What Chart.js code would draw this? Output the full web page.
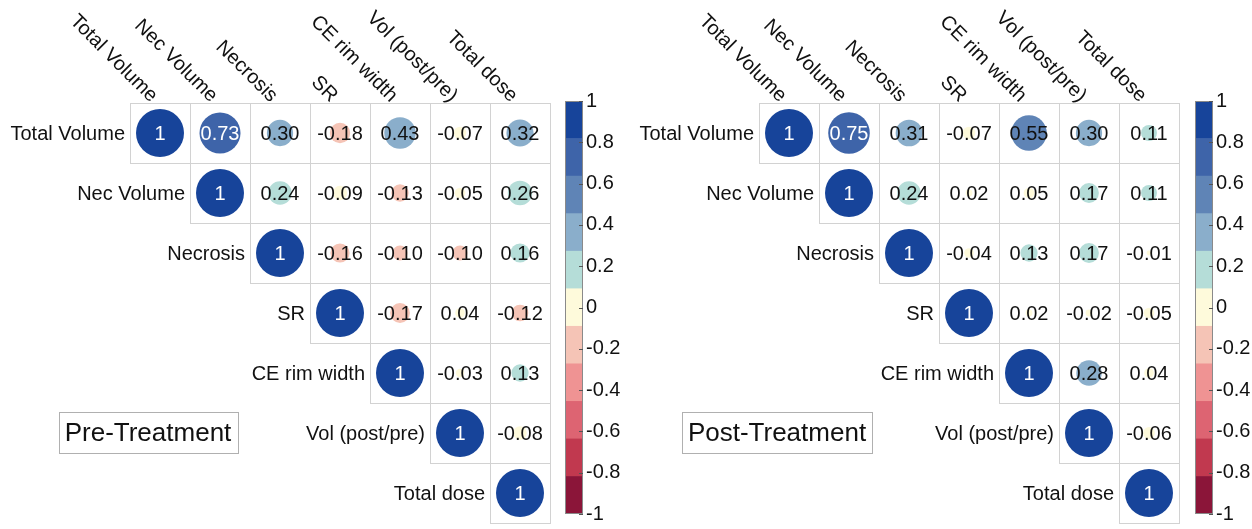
<!DOCTYPE html>
<html>
<head>
<meta charset="utf-8">
<title>Correlation matrices</title>
<script src="https://cdn.jsdelivr.net/npm/chart.js@4.4.0/dist/chart.umd.min.js"></script>
<style>
    body { margin: 0; background: #fff; width: 1252px; height: 529px; position: relative; overflow: hidden; }
    .panel { position: absolute; top: 0; height: 529px; }
</style>
</head>
<body>
<div class="panel" style="left:0px;width:560px"><canvas id="preMatrix"></canvas></div>
<div class="panel" style="left:540px;width:80px"><canvas id="preBar"></canvas></div>
<div class="panel" style="left:629px;width:552px"><canvas id="postMatrix"></canvas></div>
<div class="panel" style="left:1170px;width:82px"><canvas id="postBar"></canvas></div>

<script>
// Variable names (rows and columns of both matrices)
const variables = ['Total Volume', 'Nec Volume', 'Necrosis', 'SR', 'CE rim width', 'Vol (post/pre)', 'Total dose'];

// Upper triangle of the pre-treatment correlations, each row starts at the diagonal
const preCorr = [
    [1, 0.73, 0.30, -0.18, 0.43, -0.07, 0.32],
    [1, 0.24, -0.09, -0.13, -0.05, 0.26],
    [1, -0.16, -0.10, -0.10, 0.16],
    [1, -0.17, 0.04, -0.12],
    [1, -0.03, 0.13],
    [1, -0.08],
    [1]
];

// Upper triangle of the post-treatment correlations
const postCorr = [
    [1, 0.75, 0.31, -0.07, 0.55, 0.30, 0.11],
    [1, 0.24, 0.02, 0.05, 0.17, 0.11],
    [1, -0.04, 0.13, 0.17, -0.01],
    [1, 0.02, -0.02, -0.05],
    [1, 0.28, 0.04],
    [1, -0.06],
    [1]
];

// Colour bar bins, from -1 up to 1
const barColors = ['#8b1539', '#c1394f', '#dd6472', '#ef9393', '#f5c4b6', '#fefadb',
    '#b5ddd8', '#8aaecb', '#5f84b6', '#3e64a9', '#17449a'];

// Colour bar tick labels
const barTicks = [1, 0.8, 0.6, 0.4, 0.2, 0, -0.2, -0.4, -0.6, -0.8, -1];

const FONT = "'Liberation Sans', Arial, Helvetica, sans-serif";
Chart.defaults.font.family = FONT;

/* Picks the colour bin for a correlation value
*/
const binIndex = (v) => {
    const step = 2 / barColors.length;
    return Math.max(0, Math.min(barColors.length - 1, Math.floor((v + 1) / step)));
}

/* Half a cell in pixels, read from the x scale
*/
const halfCell = (chart) => {
    const x = chart.scales.x;
    if (!x) return 0;
    return Math.abs(x.getPixelForValue(1) - x.getPixelForValue(0)) / 2;
}

/* Grid, numbers, labels and the title box around the circles
*/
const matrixDecor = {
    id: 'matrixDecor',
    beforeDatasetsDraw(chart) {
        const { ctx, scales: { x, y } } = chart;
        const h = halfCell(chart);
        const n = variables.length;
        ctx.save();
        ctx.strokeStyle = '#d2d2d2';
        ctx.lineWidth = 1;
        for (let i = 0; i < n; i++) {
            for (let j = i; j < n; j++) {
                const cx = x.getPixelForValue(j);
                const cy = y.getPixelForValue(i);
                ctx.strokeRect(Math.round(cx - h) + 0.5, Math.round(cy - h) + 0.5, Math.round(2 * h), Math.round(2 * h));
            }
        }
        ctx.restore();
    },
    afterDatasetsDraw(chart, args, opts) {
        const { ctx, chartArea, scales: { x, y } } = chart;
        const h = halfCell(chart);
        ctx.save();

        // Numbers inside the cells
        ctx.font = '20px ' + FONT;
        ctx.textAlign = 'center';
        ctx.textBaseline = 'middle';
        chart.data.datasets[0].data.forEach(p => {
            const label = p.x === p.y ? '1' : p.v.toFixed(2);
            ctx.fillStyle = binIndex(p.v) >= barColors.length - 2 ? '#ffffff' : '#111111';
            ctx.fillText(label, x.getPixelForValue(p.x), y.getPixelForValue(p.y) + 1);
        });

        // Row labels, left of the diagonal cell
        ctx.fillStyle = '#111111';
        ctx.textAlign = 'right';
        variables.forEach((name, i) => {
            ctx.fillText(name, x.getPixelForValue(i) - h - 5, y.getPixelForValue(i) + 1);
        });

        // Column labels, tilted over the top row
        variables.forEach((name, j) => {
            ctx.save();
            ctx.translate(x.getPixelForValue(j) - 6, chartArea.top - 4);
            ctx.rotate(Math.PI / 4);
            ctx.textAlign = 'right';
            ctx.fillText(name, 0, 0);
            ctx.restore();
        });

        // Title box
        ctx.font = '26px ' + FONT;
        ctx.textAlign = 'center';
        const w = ctx.measureText(opts.title).width + 12;
        const bx = chartArea.left + 18;
        const by = 433;
        ctx.strokeStyle = '#b0b0b0';
        ctx.lineWidth = 1;
        ctx.strokeRect(Math.round(bx - w / 2) + 0.5, by - 20.5, Math.round(w), 41);
        ctx.fillText(opts.title, bx, by + 1);
        ctx.restore();
    }
};

/* Builds one correlation matrix chart
*/
const buildMatrix = (canvasId, corr, title, padRight) => {

    // Points of the upper triangle
    const points = [];
    corr.forEach((row, i) => {
        row.forEach((v, k) => points.push({ x: i + k, y: i, v: v }));
    });

    const radius = (c) => {
        const v = c.raw ? c.raw.v : 0;
        return halfCell(c.chart) * 0.8 * Math.sqrt(Math.abs(v));
    };

    const config = {
        type: 'scatter',
        data: {
            datasets: [{
                data: points,
                pointRadius: radius,
                pointHoverRadius: radius,
                pointBorderWidth: 0,
                pointBackgroundColor: (c) => barColors[binIndex(c.raw ? c.raw.v : 0)]
            }]
        },
        options: {
            responsive: true,
            maintainAspectRatio: false,
            animation: false,
            events: [],
            layout: { padding: { left: 130, top: 103, right: padRight, bottom: 6 } },
            scales: {
                x: { type: 'linear', min: -0.5, max: 6.5, display: false },
                y: { type: 'linear', min: -0.5, max: 6.5, reverse: true, display: false }
            },
            plugins: {
                legend: { display: false },
                tooltip: { enabled: false },
                matrixDecor: { title: title }
            }
        },
        plugins: [matrixDecor]
    };

    const ctx = document.getElementById(canvasId).getContext('2d');
    return new Chart(ctx, config);
}

/* Frame and small inner tick marks of the colour bar
*/
const barFrame = {
    id: 'barFrame',
    afterDatasetsDraw(chart) {
        const { ctx, chartArea: a, scales: { y } } = chart;
        ctx.save();
        ctx.strokeStyle = '#8a8a8a';
        ctx.lineWidth = 1;
        ctx.strokeRect(Math.round(a.left) + 0.5, Math.round(a.top) + 0.5, Math.round(a.right - a.left) - 1, Math.round(a.bottom - a.top) - 1);
        ctx.strokeStyle = '#555555';
        barTicks.forEach(t => {
            const py = Math.round(y.getPixelForValue(t)) + 0.5;
            ctx.beginPath();
            ctx.moveTo(a.right - 4, py);
            ctx.lineTo(a.right, py);
            ctx.stroke();
        });
        ctx.restore();
    }
};

/* Builds the colour bar as floating bars on a -1..1 scale
*/
const buildColorBar = (canvasId, axisWidth) => {

    const step = 2 / barColors.length;
    const datasets = barColors.map((c, k) => ({
        data: [[-1 + k * step, -1 + (k + 1) * step]],
        backgroundColor: c,
        borderWidth: 0,
        grouped: false,
        barPercentage: 1,
        categoryPercentage: 1
    }));

    const config = {
        type: 'bar',
        data: { labels: [''], datasets: datasets },
        options: {
            responsive: true,
            maintainAspectRatio: false,
            animation: false,
            events: [],
            layout: { padding: { left: 25, top: 101, right: 0, bottom: 8 } },
            scales: {
                x: { display: false },
                y: {
                    position: 'right',
                    min: -1,
                    max: 1,
                    afterBuildTicks: (s) => { s.ticks = barTicks.map(v => ({ value: v })); },
                    afterFit: (s) => { s.width = axisWidth; },
                    grid: { display: false, drawTicks: false },
                    border: { display: false },
                    ticks: {
                        color: '#111111',
                        padding: 3,
                        font: { size: 20, family: FONT },
                        callback: (v) => String(v)
                    }
                }
            },
            plugins: {
                legend: { display: false },
                tooltip: { enabled: false }
            }
        },
        plugins: [barFrame]
    };

    const ctx = document.getElementById(canvasId).getContext('2d');
    return new Chart(ctx, config);
}

/* Kicks off all four charts
*/
const init = () => {
    buildMatrix('preMatrix', preCorr, 'Pre-Treatment', 10);
    buildColorBar('preBar', 37);
    buildMatrix('postMatrix', postCorr, 'Post-Treatment', 2);
    buildColorBar('postBar', 39);
}

document.addEventListener("DOMContentLoaded", () => {
    init();
});
</script>
</body>
</html>
